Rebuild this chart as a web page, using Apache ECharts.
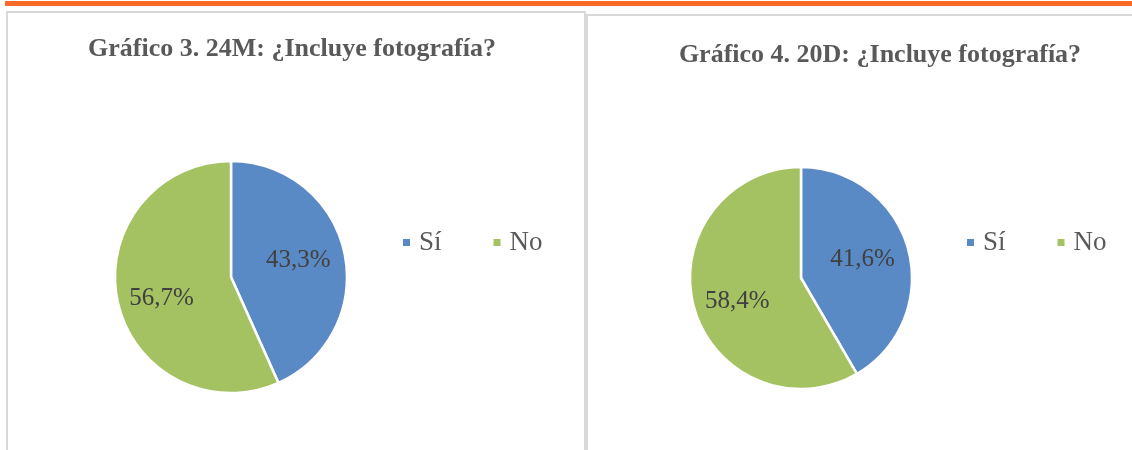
<!DOCTYPE html>
<html>
<head>
<meta charset="utf-8">
<title>Gráficos 3 y 4</title>
<style>
  html, body { margin: 0; padding: 0; background: #fff; }
  #main { width: 1132px; height: 450px; }
</style>
</head>
<body>
<div id="main"></div>
<script src="https://cdn.jsdelivr.net/npm/echarts@6/dist/echarts.min.js"></script>
<script>
// datos
var categorias = ['Sí', 'No'];
var valores24M = [43.3, 56.7];
var valores20D = [41.6, 58.4];
var titulos = ['Gráfico 3. 24M: ¿Incluye fotografía?', 'Gráfico 4. 20D: ¿Incluye fotografía?'];
var colores = ['#5a8ac5', '#a4c262'];

var serif = '"Liberation Serif", "DejaVu Serif", serif';
// pequeño ajuste de las etiquetas, como las coloca Excel
var desplaz = [[-4, -1], [2, 6]];

function datos(vals, conDesplaz) {
    return categorias.map(function (c, i) {
        var d = { name: c, value: vals[i] };
        if (conDesplaz) d.label = { offset: desplaz[i] };
        return d;
    });
}

function etiqueta(p) {
    return p.value.toFixed(1).replace('.', ',') + '%';
}

// pie visible + pie transparente solo para colocar las etiquetas
function tarta(vals, centro, r, rEtiq) {
    return [{
        type: 'pie',
        center: centro,
        radius: [0, r],
        startAngle: 90,
        clockwise: true,
        silent: true,
        label: { show: false },
        labelLine: { show: false },
        itemStyle: { borderColor: '#fff', borderWidth: 2.5 },
        data: datos(vals, false)
    }, {
        type: 'pie',
        center: centro,
        radius: [rEtiq, r],
        startAngle: 90,
        clockwise: true,
        silent: true,
        legendHoverLink: false,
        itemStyle: { color: 'rgba(0,0,0,0)' },
        label: {
            show: true,
            position: 'inside',
            formatter: etiqueta,
            fontFamily: serif,
            fontSize: 25,
            color: '#404040'
        },
        labelLine: { show: false },
        data: datos(vals, true)
    }];
}

function leyenda(x) {
    return {
        left: x,
        top: 224,
        orient: 'horizontal',
        icon: 'rect',
        itemWidth: 9,
        itemHeight: 9,
        itemGap: 50,
        selectedMode: false,
        data: categorias,
        textStyle: { fontFamily: serif, fontSize: 27, color: '#595959', padding: [0, 0, 0, 3] }
    };
}

var chart = echarts.init(document.getElementById('main'));
var option = {
    animation: false,
    color: colores,
    graphic: [
        { type: 'rect', shape: { x: 5, y: 1, width: 1127, height: 5 }, style: { fill: '#f86a26' } },
        { type: 'rect', shape: { x: 7, y: 12, width: 578, height: 460 }, style: { fill: 'none', stroke: '#d9d9d9', lineWidth: 2 } },
        { type: 'rect', shape: { x: 587, y: 15, width: 560, height: 460 }, style: { fill: 'none', stroke: '#d9d9d9', lineWidth: 2 } },
        { type: 'text', x: 292, y: 49, style: { text: titulos[0], textAlign: 'center', textVerticalAlign: 'middle', font: 'bold 26px ' + serif, fill: '#595959' } },
        { type: 'text', x: 880, y: 55, style: { text: titulos[1], textAlign: 'center', textVerticalAlign: 'middle', font: 'bold 26px ' + serif, fill: '#595959' } }
    ],
    legend: [leyenda(396), leyenda(960)],
    series: tarta(valores24M, [231, 277], 116, 24).concat(tarta(valores20D, [801, 278], 111, 19))
};
chart.setOption(option);
</script>
</body>
</html>
